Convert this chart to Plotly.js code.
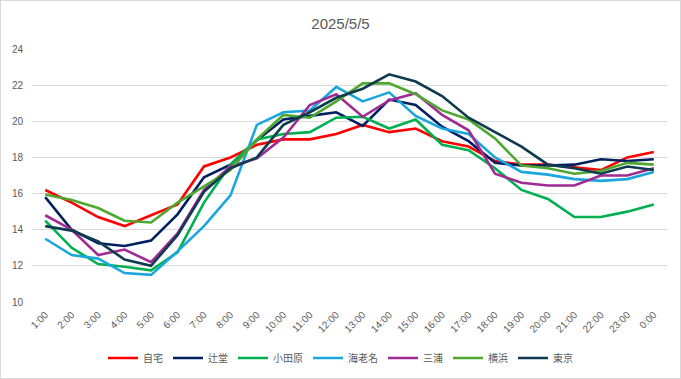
<!DOCTYPE html>
<html>
<head>
<meta charset="utf-8">
<script src="https://cdn.plot.ly/plotly-3.0.1.min.js"></script>
<style>
html,body{margin:0;padding:0;background:#fff;}
#chart{width:681px;height:379px;box-sizing:border-box;border:1px solid #d9d9d9;}
</style>
</head>
<body>
<div id="chart"></div>
<script>
const hours = ["1:00","2:00","3:00","4:00","5:00","6:00","7:00","8:00","9:00","10:00","11:00","12:00","13:00","14:00","15:00","16:00","17:00","18:00","19:00","20:00","21:00","22:00","23:00","0:00"];

const jitaku   = [16.2,15.5,14.7,14.2,14.8,15.4,17.5,18.0,18.7,19.0,19.0,19.3,19.8,19.4,19.6,18.9,18.6,17.8,17.6,17.6,17.45,17.3,18.0,18.3];
const tsujido  = [15.8,14.0,13.25,13.1,13.4,14.85,16.9,17.6,18.95,20.1,20.3,20.5,19.75,21.2,20.9,19.7,18.9,17.7,17.55,17.55,17.6,17.9,17.8,17.9];
const odawara  = [14.5,13.0,12.1,11.95,11.75,12.75,15.5,17.6,19.0,19.3,19.4,20.2,20.25,19.6,20.1,18.7,18.4,17.4,16.2,15.7,14.7,14.7,15.0,15.4];
const ebina    = [13.5,12.6,12.4,11.6,11.5,12.8,14.2,15.9,19.8,20.5,20.6,21.9,21.1,21.6,20.3,19.6,19.3,18.0,17.2,17.05,16.8,16.7,16.8,17.2];
const miura    = [14.8,14.0,12.6,12.9,12.2,13.8,16.2,17.5,17.95,19.1,20.9,21.5,20.25,21.15,21.55,20.35,19.5,17.1,16.6,16.45,16.45,17.0,17.0,17.4];
const yokohama = [15.95,15.65,15.2,14.5,14.4,15.5,16.4,17.3,19.0,20.35,20.2,21.1,22.1,22.1,21.5,20.6,20.1,19.05,17.55,17.4,17.1,17.25,17.7,17.6];
const tokyo    = [14.2,13.95,13.35,12.35,12.0,13.7,16.1,17.4,18.0,19.8,20.5,21.3,21.8,22.6,22.2,21.4,20.2,19.4,18.6,17.6,17.4,17.1,17.5,17.3];

const seriesNames = ["自宅","辻堂","小田原","海老名","三浦","横浜","東京"];
const seriesData = [jitaku,tsujido,odawara,ebina,miura,yokohama,tokyo];
const seriesColors = ["#ff0000","#002060","#00b050","#1ba6de","#a02b93","#4ea72e","#0e3b4f"];

const traces = seriesNames.map((n,i)=>({
  type:"scatter", mode:"lines", name:n, x:hours, y:seriesData[i],
  line:{color:seriesColors[i], width:2.6}
}));

const layout = {
  width:679, height:377,
  margin:{l:31, r:13, t:48, b:76},
  paper_bgcolor:"#fff", plot_bgcolor:"#fff",
  font:{family:"Liberation Sans, Arial, sans-serif", color:"#595959", size:10},
  title:{text:"2025/5/5", x:0.5, xanchor:"center", y:0.94, yanchor:"middle",
         font:{size:15, color:"#595959", family:"Liberation Sans, Arial, sans-serif"}},
  xaxis:{type:"category", range:[-0.5, 23.5], tickangle:-45, showgrid:false, zeroline:false, showline:false,
         ticks:"", ticklabelstandoff:4, tickfont:{size:10, color:"#595959"}, automargin:false},
  yaxis:{range:[10,24], dtick:2, tick0:10, showgrid:true, gridcolor:"#d9d9d9", gridwidth:1,
         zeroline:false, showline:false, ticks:"", ticklabelstandoff:8,
         tickfont:{size:10, color:"#595959"}, automargin:false},
  showlegend:true,
  legend:{orientation:"h", x:0.5, xanchor:"center", xref:"container", yref:"container",
          y:0.053, yanchor:"middle",
          font:{family:"Noto Sans CJK JP, sans-serif", size:10, color:"#595959"},
          itemwidth:30, tracegroupgap:0}
};

Plotly.newPlot("chart", traces, layout, {displayModeBar:false, staticPlot:true});
</script>
</body>
</html>
